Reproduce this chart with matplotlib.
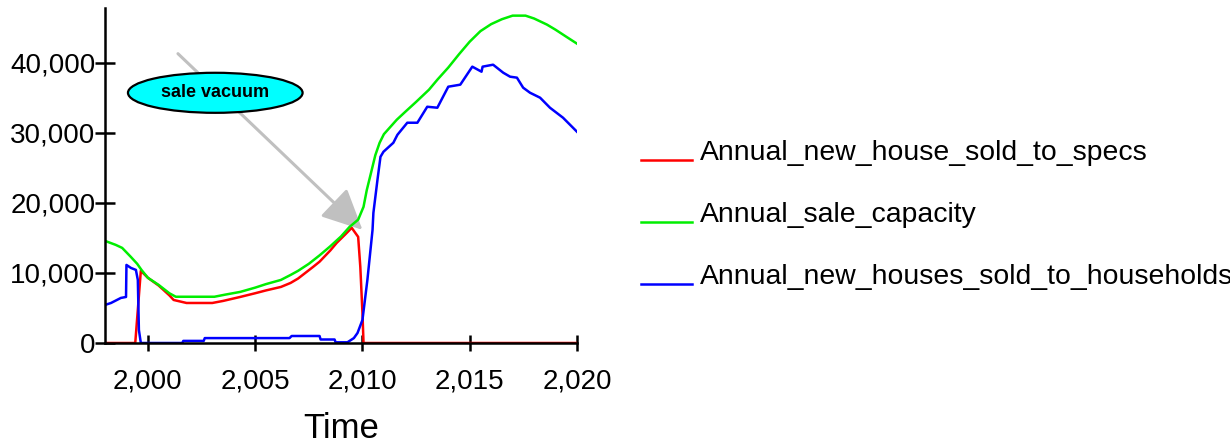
import numpy as np
import matplotlib
matplotlib.use("Agg")
import matplotlib.pyplot as plt
from matplotlib.ticker import FuncFormatter
from matplotlib.patches import Ellipse
from matplotlib.legend_handler import HandlerLine2D
from matplotlib.lines import Line2D

plt.rcParams['font.family'] = ['Liberation Sans', 'DejaVu Sans']

# ---- data ----
cap_t = [1998.0, 1998.5, 1998.8, 1999.2, 1999.5, 1999.7, 2000.0, 2000.5, 2001.0, 2001.3,
         2002.0, 2003.1, 2003.6, 2004.3, 2005.0, 2005.5, 2006.2, 2006.65, 2007.0, 2007.5,
         2008.0, 2008.5, 2009.0, 2009.4, 2009.8, 2010.05, 2010.2, 2010.4, 2010.6, 2010.8,
         2011.0, 2011.6, 2012.0, 2012.5, 2013.1, 2013.5, 2014.0, 2014.5, 2015.0, 2015.5,
         2016.0, 2016.5, 2017.0, 2017.6, 2018.0, 2018.6, 2019.0, 2019.5, 2020.0]
cap_v = [14570, 14000, 13570, 12300, 11300, 10430, 9300, 8290, 7100, 6600,
         6600, 6600, 6900, 7290, 7900, 8400, 9000, 9710, 10300, 11300,
         12500, 13800, 15200, 16570, 17600, 19430, 21800, 24290, 26800, 28570,
         29800, 31860, 33000, 34400, 36140, 37600, 39300, 41200, 43000, 44500,
         45500, 46200, 46710, 46710, 46300, 45430, 44700, 43700, 42710]

spec_t = [1998.0, 1999.41, 1999.67, 2000.0, 2000.5, 2001.0, 2001.2, 2001.8, 2003.0, 2003.5,
          2004.3, 2005.0, 2005.5, 2006.2, 2006.65, 2007.0, 2007.7, 2008.0, 2008.5, 2008.8,
          2009.2, 2009.5, 2009.8, 2009.9, 2010.0, 2010.05, 2020.0]
spec_v = [0, 0, 10300, 9300, 8200, 6800, 6140, 5710, 5710, 6000,
          6570, 7100, 7500, 8000, 8570, 9200, 10860, 11600, 13200, 14290,
          15500, 16430, 15140, 10860, 4290, 0, 0]

hh_t = [1998.0, 1998.28, 1998.74, 1998.98, 1999.0, 1999.21, 1999.44, 1999.53, 1999.58, 1999.67,
        2001.6, 2001.65, 2002.6, 2002.65, 2006.6, 2006.7, 2008.0, 2008.05, 2008.7, 2008.75,
        2009.3, 2009.6, 2009.77, 2010.0, 2010.23, 2010.47, 2010.51, 2010.7, 2010.84, 2010.98,
        2011.44, 2011.63, 2012.09, 2012.56, 2013.02, 2013.49, 2014.0, 2014.56, 2015.12, 2015.55,
        2015.6, 2016.09, 2016.56, 2016.88, 2017.2, 2017.49, 2017.81, 2018.28, 2018.74, 2019.35,
        2020.0]
hh_v = [5430, 5710, 6430, 6570, 11140, 10710, 10430, 9000, 1860, 0,
        0, 300, 300, 700, 700, 1000, 1000, 500, 500, 100,
        100, 700, 1430, 3290, 9000, 16140, 18570, 23290, 26570, 27290,
        28570, 29710, 31430, 31430, 33710, 33570, 36570, 36860, 39430, 38710,
        39430, 39710, 38570, 38000, 37860, 36430, 35710, 35000, 33570, 32140,
        30140]

series_labels = ["Annual_new_house_sold_to_specs", "Annual_sale_capacity",
                 "Annual_new_houses_sold_to_households"]
x_ticks = [2000, 2005, 2010, 2015, 2020]
y_ticks = [0, 10000, 20000, 30000, 40000]
note_text = "sale vacuum"

# ---- figure ----
fig = plt.figure(figsize=(12.3, 4.46), dpi=100)
ax = fig.add_axes([105/1230, 103/446, 472/1230, 335/446])

lw = 1.8
l1, = ax.plot(spec_t, spec_v, color='#ff0000', lw=lw, zorder=3, label=series_labels[0])
l2, = ax.plot(cap_t, cap_v, color='#00ee00', lw=lw, zorder=3, label=series_labels[1])
l3, = ax.plot(hh_t, hh_v, color='#0000ff', lw=lw, zorder=3, label=series_labels[2])

ax.set_xlim(1998, 2020)
ax.set_ylim(0, 47800)
ax.set_xticks(x_ticks)
ax.set_yticks(y_ticks)
fmt = FuncFormatter(lambda v, p: f"{v:,.0f}")
ax.xaxis.set_major_formatter(fmt)
ax.yaxis.set_major_formatter(fmt)

for s in ['top', 'right']:
    ax.spines[s].set_visible(False)
for s in ['left', 'bottom']:
    ax.spines[s].set_linewidth(1.8)
    ax.spines[s].set_zorder(4)

ax.tick_params(axis='x', direction='inout', length=12, width=1.8, labelsize=20, pad=12)
ax.tick_params(axis='y', direction='inout', length=14, width=1.8, labelsize=20, pad=0)
ax.set_xlabel("Time", fontsize=25, labelpad=13)
ax.set_facecolor('none')

# annotation arrow + ellipse
ax.annotate("", xy=(2010.0, 16143), xytext=(2001.4, 41286),
            arrowprops=dict(arrowstyle='-|>,head_length=2.5,head_width=1.2',
                            mutation_scale=10, color='#c0c0c0', lw=2.2,
                            shrinkA=0, shrinkB=0),
            zorder=1)
ell = Ellipse((2003.14, 35700), width=8.14, height=5714, facecolor='#00ffff',
              edgecolor='black', lw=1.6, zorder=5)
ax.add_patch(ell)
ax.text(2003.14, 35700, note_text, ha='center', va='center', fontsize=13,
        fontweight='bold', zorder=6)


class BaselineHandler(HandlerLine2D):
    def create_artists(self, legend, orig_handle, xdescent, ydescent, width, height,
                       fontsize, trans):
        arts = super().create_artists(legend, orig_handle, xdescent, ydescent, width,
                                      height, fontsize, trans)
        for a in arts:
            if isinstance(a, Line2D):
                a.set_ydata(np.zeros_like(np.asarray(a.get_xdata(), dtype=float)))
        return arts


leg = fig.legend(handles=[l1, l2, l3], loc='upper left',
                 bbox_to_anchor=(641/1230, 1 - 140/446), frameon=False,
                 fontsize=20.4, handlelength=1.8, handletextpad=0.29,
                 labelspacing=1.27, borderpad=0, borderaxespad=0,
                 handler_map={Line2D: BaselineHandler()})

fig.savefig("out.png", dpi=100)
